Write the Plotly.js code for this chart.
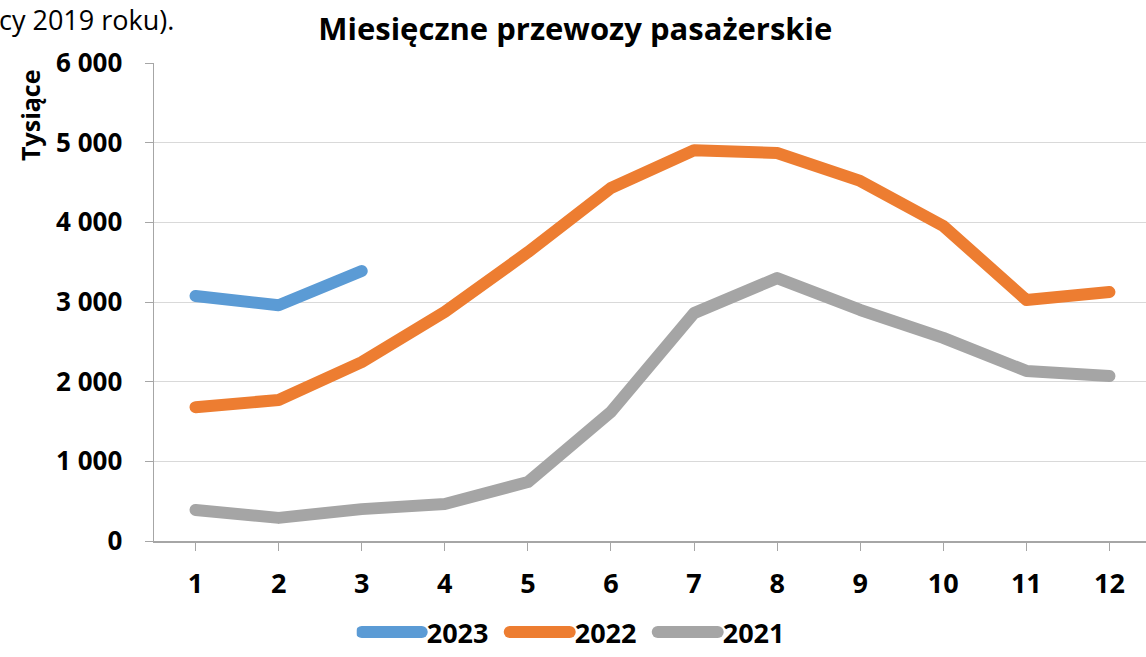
<!DOCTYPE html>
<html>
<head>
<meta charset="utf-8">
<script src="https://cdn.plot.ly/plotly-3.0.1.min.js"></script>
<style>
  html, body { margin: 0; padding: 0; background: #fff; }
  #chart { width: 1146px; height: 657px; }
  /* Excel-like rounded line ends */
  #chart .scatterlayer .js-line,
  #chart .legendlines path {
      stroke-linecap: round !important;
      stroke-linejoin: round !important;
  }
  #chart .legendlines path { stroke-width: 12px !important; }
</style>
</head>
<body>
<div id="chart"></div>
<script>
// months 1..12, passengers in thousands
var months = [1, 2, 3, 4, 5, 6, 7, 8, 9, 10, 11, 12];
var y2023 = [3075, 2960, 3390];
var y2022 = [1680, 1770, 2245, 2875, 3625, 4430, 4905, 4870, 4520, 3955, 3025, 3125];
var y2021 = [390, 290, 400, 465, 740, 1620, 2860, 3300, 2900, 2550, 2135, 2070];
var yTicks = [0, 1000, 2000, 3000, 4000, 5000, 6000];
var yTickText = ['0', '1 000', '2 000', '3 000', '4 000', '5 000', '6 000'];

var font = '"Open Sans", Lato, sans-serif';

function series(name, vals, color) {
    return {
        x: months.slice(0, vals.length),
        y: vals,
        name: name,
        type: 'scatter',
        mode: 'lines',
        line: {color: color, width: 12},
        hoverinfo: 'skip'
    };
}

var data = [
    series('2023', y2023, '#5B9BD5'),
    series('2022', y2022, '#ED7D31'),
    series('2021', y2021, '#A5A5A5')
];

var layout = {
    width: 1146,
    height: 657,
    margin: {l: 154, r: 0, t: 63, b: 116},
    paper_bgcolor: '#fff',
    plot_bgcolor: '#fff',
    font: {family: font, color: '#000'},
    title: {
        text: 'Miesięczne przewozy pasażerskie',
        font: {size: 31, weight: 'bold', family: font},
        x: 0.502, xanchor: 'center',
        y: 0.955, yanchor: 'middle'
    },
    xaxis: {
        range: [0.5, 12.44],
        tickvals: months,
        ticktext: months.map(String),
        tickson: 'boundaries',
        ticks: 'outside',
        ticklen: 8,
        tickcolor: '#A6A6A6',
        showline: true,
        linecolor: '#A6A6A6',
        linewidth: 1.5,
        showgrid: false,
        zeroline: false,
        ticklabelstandoff: 10,
        tickfont: {size: 27, weight: 'bold', family: font}
    },
    yaxis: {
        range: [0, 6000],
        tickvals: yTicks,
        ticktext: yTickText,
        ticks: 'outside',
        ticklen: 8,
        tickcolor: '#A6A6A6',
        showline: true,
        linecolor: '#A6A6A6',
        linewidth: 1.5,
        gridcolor: '#D9D9D9',
        gridwidth: 1,
        zeroline: false,
        ticklabelstandoff: 17,
        tickfont: {size: 26, weight: 'bold', family: font}
    },
    showlegend: true,
    legend: {
        orientation: 'h',
        xref: 'container', yref: 'container',
        x: 0.505, xanchor: 'center',
        y: 0, yanchor: 'bottom',
        itemwidth: 60,
        entrywidth: 73,
        entrywidthmode: 'pixels',
        font: {size: 27, weight: 'bold', family: font},
        traceorder: 'normal'
    },
    annotations: [
        {
            text: 'Tysiące',
            textangle: -90,
            xref: 'paper', yref: 'paper',
            x: (30 - 154) / 992, y: (541 - 116) / 478,
            xanchor: 'center', yanchor: 'middle',
            showarrow: false,
            font: {size: 25, weight: 'bold', family: font}
        },
        {
            // tail of the surrounding document text, cut in the original
            text: 'cy 2019 roku).',
            xref: 'paper', yref: 'paper',
            x: (-2 - 154) / 992, y: 541 / 478,
            xanchor: 'left', yanchor: 'top',
            borderpad: 0,
            showarrow: false,
            font: {size: 27, family: font}
        }
    ]
};

Plotly.newPlot('chart', data, layout, {displayModeBar: false, staticPlot: true});
</script>
</body>
</html>
